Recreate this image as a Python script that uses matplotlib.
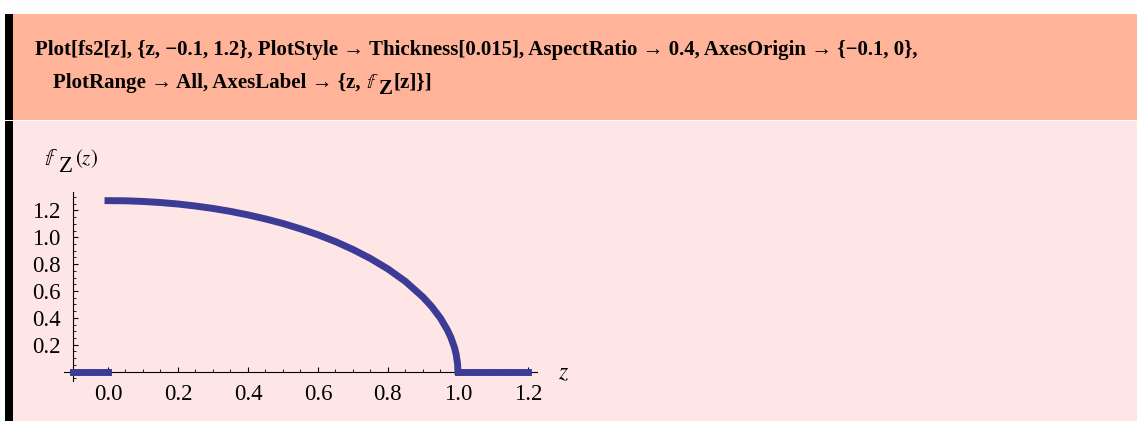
import numpy as np
import matplotlib.pyplot as plt
from matplotlib.patches import Rectangle
from matplotlib.ticker import MultipleLocator

plt.rcParams['mathtext.fontset'] = 'stix'
SERIF = ['Liberation Serif', 'DejaVu Serif']

# density
z_curve = [0.0, 0.05, 0.1, 0.15, 0.2, 0.25, 0.3, 0.35, 0.4, 0.45, 0.5, 0.55,
           0.6, 0.65, 0.7, 0.75, 0.8, 0.85, 0.9, 0.925, 0.95, 0.97, 0.98,
           0.99, 0.995, 0.999, 1.0]
f_curve = [1.273, 1.272, 1.267, 1.259, 1.248, 1.233, 1.215, 1.193, 1.167,
           1.137, 1.103, 1.063, 1.019, 0.968, 0.909, 0.842, 0.764, 0.671,
           0.555, 0.484, 0.398, 0.309, 0.253, 0.180, 0.127, 0.057, 0.0]
# flat zero pieces outside the support
z_left = [-0.1, 0.0]
f_left = [0.0, 0.0]
z_right = [1.0, 1.2]
f_right = [0.0, 0.0]

x_ticks = [0.0, 0.2, 0.4, 0.6, 0.8, 1.0, 1.2]
y_ticks = [0.2, 0.4, 0.6, 0.8, 1.0, 1.2]

code_line1 = "Plot[fs2[z], {z, \u22120.1, 1.2}, PlotStyle \u2192 Thickness[0.015], AspectRatio \u2192 0.4, AxesOrigin \u2192 {\u22120.1, 0},"
code_line2 = ["PlotRange \u2192 All, AxesLabel \u2192 {z, ", r"$\mathbb{f}$", "Z", "[z]}]"]

W, H = 1137, 421
fig = plt.figure(figsize=(W / 100, H / 100), dpi=100)
renderer = fig.canvas.get_renderer()


def px(x, y):
    return x / W, 1 - y / H


def box(x0, y0, x1, y1, color):
    fig.add_artist(Rectangle(px(x0, y1), (x1 - x0) / W, (y1 - y0) / H,
                             transform=fig.transFigure, color=color,
                             lw=0, zorder=-10))


# notebook cells
box(13, 14, W, 120, '#FFB399')
box(13, 121, W, H, '#FFE6E6')
box(5, 14, 13, 120, 'black')
box(5, 121, 13, H, 'black')

fig.text(*px(35, 55), code_line1, family=SERIF, weight='bold', fontsize=15,
         va='baseline')

# second input line, pieces placed one after another
xpos = 53
for piece, dy in zip(code_line2, [0, 0, 6, 0]):
    t = fig.text(*px(xpos, 88 + dy), piece, family=SERIF, weight='bold',
                 fontsize=15, va='baseline')
    xpos = t.get_window_extent(renderer).x1 + (1 if piece == "Z" else 0)

# plot area
x0, x1 = -0.126, 1.226
y0, y1 = -0.067, 1.336
left, right, bottom, top = 63.9, 537, 380.5, 192.2
ax = fig.add_axes([left / W, 1 - bottom / H, (right - left) / W, (bottom - top) / H])
ax.set_facecolor('none')
ax.set_xlim(x0, x1)
ax.set_ylim(y0, y1)

blue = '#3C3C96'
for zs, fs in [(z_left, f_left), (z_curve, f_curve), (z_right, f_right)]:
    ax.plot(zs, fs, color=blue, lw=5, solid_capstyle='projecting',
            solid_joinstyle='round', zorder=3)

for s in ['top', 'right']:
    ax.spines[s].set_visible(False)
ax.spines['bottom'].set_position(('data', 0))
ax.spines['left'].set_position(('data', -0.1))
for s in ['bottom', 'left']:
    ax.spines[s].set_linewidth(0.8)
    ax.spines[s].set_zorder(2)

ax.set_xticks(x_ticks)
ax.set_xticklabels([f'{v:.1f}' for v in x_ticks])
ax.set_yticks(y_ticks)
ax.set_yticklabels([f'{v:.1f}' for v in y_ticks])
ax.xaxis.set_minor_locator(MultipleLocator(0.05))
ax.yaxis.set_minor_locator(MultipleLocator(0.05))
ax.tick_params(which='major', direction='in', length=3.5, width=0.8,
               labelsize=16.5, pad=9)
ax.tick_params(which='minor', direction='in', length=2, width=0.6)
for lab in ax.get_xticklabels() + ax.get_yticklabels():
    lab.set_family(SERIF)

# axis labels
fig.text(*px(558, 379), r'$z$', fontsize=17, va='baseline')
fig.text(*px(44, 165), r'$\mathbb{f}$', fontsize=17, va='baseline')
fig.text(*px(59, 172), 'Z', family=SERIF, fontsize=16.5, va='baseline')
fig.text(*px(75, 164), r'$(z)$', fontsize=15, va='baseline')

fig.savefig('out.png', dpi=100)
